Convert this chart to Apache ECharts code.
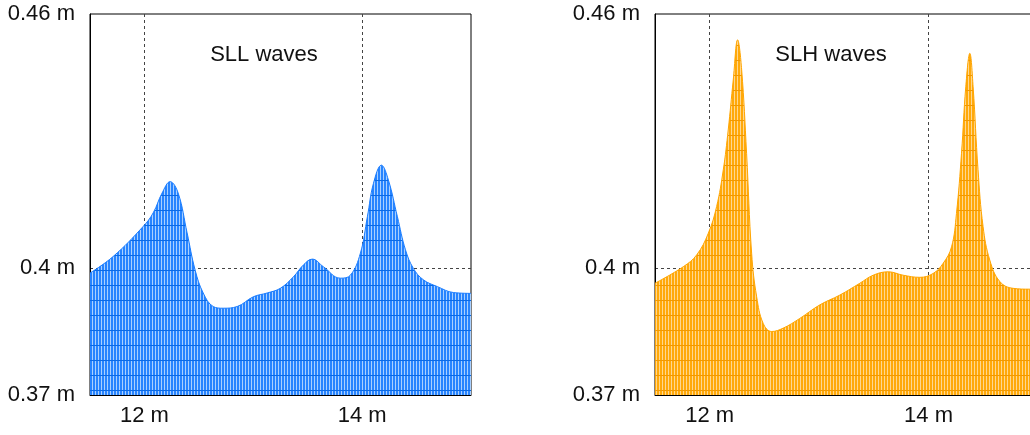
<!DOCTYPE html>
<html>
<head>
<meta charset="utf-8">
<script src="https://cdn.jsdelivr.net/npm/echarts@6/dist/echarts.min.js"></script>
<style>
html,body{margin:0;padding:0;background:#fff;overflow:hidden;}
#chart{width:1030px;height:435px;}
</style>
</head>
<body>
<div id="chart"></div>
<script>
// ---- data ----
const titles = ['SLL waves', 'SLH waves'];
const xTickLabels = [12, 14];
const yTickLabels = [0.37, 0.4, 0.46];

const sllX = [11.5, 11.712, 11.988, 12.08, 12.162, 12.236, 12.31, 12.392, 12.466, 12.54, 12.632, 12.724, 12.852, 13.0, 13.128, 13.248, 13.368, 13.46, 13.542, 13.644, 13.8, 13.892, 13.984, 14.048, 14.104, 14.177, 14.241, 14.324, 14.398, 14.471, 14.563, 14.692, 14.839, 15.0];
const sllY = [0.3988, 0.4027, 0.4098, 0.4130, 0.4177, 0.4204, 0.4177, 0.4083, 0.3995, 0.3941, 0.3909, 0.3905, 0.3909, 0.3932, 0.3941, 0.3952, 0.3979, 0.4007, 0.4021, 0.4003, 0.3976, 0.3983, 0.4035, 0.4121, 0.4200, 0.4243, 0.4208, 0.4121, 0.4043, 0.3999, 0.3972, 0.3956, 0.3942, 0.3940];

const slhX = [11.5, 11.758, 11.881, 11.987, 12.063, 12.124, 12.169, 12.215, 12.255, 12.292, 12.337, 12.383, 12.429, 12.489, 12.566, 12.672, 12.824, 13.007, 13.189, 13.372, 13.494, 13.631, 13.767, 13.92, 14.041, 14.133, 14.21, 14.255, 14.301, 14.34, 14.377, 14.407, 14.452, 14.498, 14.559, 14.651, 14.772, 14.925, 15.0];
const slhY = [0.3964, 0.4003, 0.4031, 0.4082, 0.4145, 0.4232, 0.4326, 0.4444, 0.4539, 0.4468, 0.4271, 0.4035, 0.3932, 0.3869, 0.3850, 0.3858, 0.3881, 0.3913, 0.3936, 0.3964, 0.3983, 0.3991, 0.3983, 0.3978, 0.3987, 0.4011, 0.4050, 0.4129, 0.4271, 0.4428, 0.4507, 0.4428, 0.4232, 0.4098, 0.4019, 0.3968, 0.3952, 0.3950, 0.3950];

// ---- helpers ----
function pattern(base, light, dark) {
  const c = document.createElement('canvas');
  c.width = 3; c.height = 15;
  const g = c.getContext('2d');
  g.fillStyle = base; g.fillRect(0, 0, 3, 15);
  g.fillStyle = light; g.fillRect(2, 0, 1, 15);
  g.fillStyle = dark; g.fillRect(0, 0, 3, 1);
  return c;
}
const FONT = '"Liberation Sans", Arial, Helvetica, sans-serif';
const gridColor = '#444';
const T = 'rgba(0,0,0,0)';
const yKeep = v => yTickLabels.some(t => Math.abs(t - v) < 1e-6);
const xKeep = v => xTickLabels.some(t => Math.abs(t - v) < 1e-6);

function xAxis(idx) {
  return {
    type: 'value', gridIndex: idx, min: 11.5, max: 15, interval: 0.5,
    axisLine: { show: true, lineStyle: { color: '#000', width: 1 } },
    axisTick: { show: false },
    axisLabel: {
      show: true, color: '#111', fontSize: 22, fontFamily: FONT, margin: 10,
      formatter: v => xKeep(v) ? (+v.toFixed(2)) + ' m' : ''
    },
    splitLine: {
      show: true,
      lineStyle: { type: [3, 3], width: 1, color: [T, gridColor, T, T, T, gridColor, T, T] }
    }
  };
}
function yAxis(idx) {
  return {
    type: 'value', gridIndex: idx, min: 0.37, max: 0.46, interval: 0.03,
    axisLine: { show: true, lineStyle: { color: '#000', width: 1 } },
    axisTick: { show: false },
    axisLabel: {
      show: true, color: '#111', fontSize: 22, fontFamily: FONT, margin: 15,
      formatter: v => yKeep(v) ? (+v.toFixed(2)) + ' m' : ''
    },
    splitLine: {
      show: true,
      lineStyle: { type: [3, 3], width: 1, color: [T, gridColor, T, T] }
    }
  };
}
function series(idx, xs, ys, base, light, dark, edge) {
  return {
    type: 'line', xAxisIndex: idx, yAxisIndex: idx,
    data: xs.map((x, i) => [x, ys[i]]),
    smooth: 0.4, showSymbol: false, symbol: 'none',
    lineStyle: { color: edge, width: 1 },
    areaStyle: { color: { image: pattern(base, light, dark), repeat: 'repeat' }, opacity: 1, origin: 'start' },
    silent: true, animation: false
  };
}

const chart = echarts.init(document.getElementById('chart'), null, { renderer: 'canvas' });
chart.setOption({
  animation: false,
  backgroundColor: '#fff',
  grid: [
    { left: 90, width: 381, top: 14, bottom: 40, show: true, borderColor: '#000', borderWidth: 1, backgroundColor: 'transparent', outerBoundsMode: 'none', containLabel: false },
    { left: 655, width: 383, top: 14, bottom: 40, show: true, borderColor: '#000', borderWidth: 1, backgroundColor: 'transparent', outerBoundsMode: 'none', containLabel: false }
  ],
  xAxis: [xAxis(0), xAxis(1)],
  yAxis: [yAxis(0), yAxis(1)],
  series: [
    series(0, sllX, sllY, '#2784ff', '#a9d0ff', '#0b6ae6', '#1a7dff'),
    series(1, slhX, slhY, '#ffa90a', '#ffd78f', '#f29900', '#ffa500')
  ],
  graphic: [
    { type: 'text', x: 264, y: 55, style: { text: titles[0], fontSize: 22, fontFamily: FONT, fill: '#111', align: 'center', verticalAlign: 'middle' } },
    { type: 'text', x: 831, y: 55, style: { text: titles[1], fontSize: 22, fontFamily: FONT, fill: '#111', align: 'center', verticalAlign: 'middle' } }
  ]
});
</script>
</body>
</html>
